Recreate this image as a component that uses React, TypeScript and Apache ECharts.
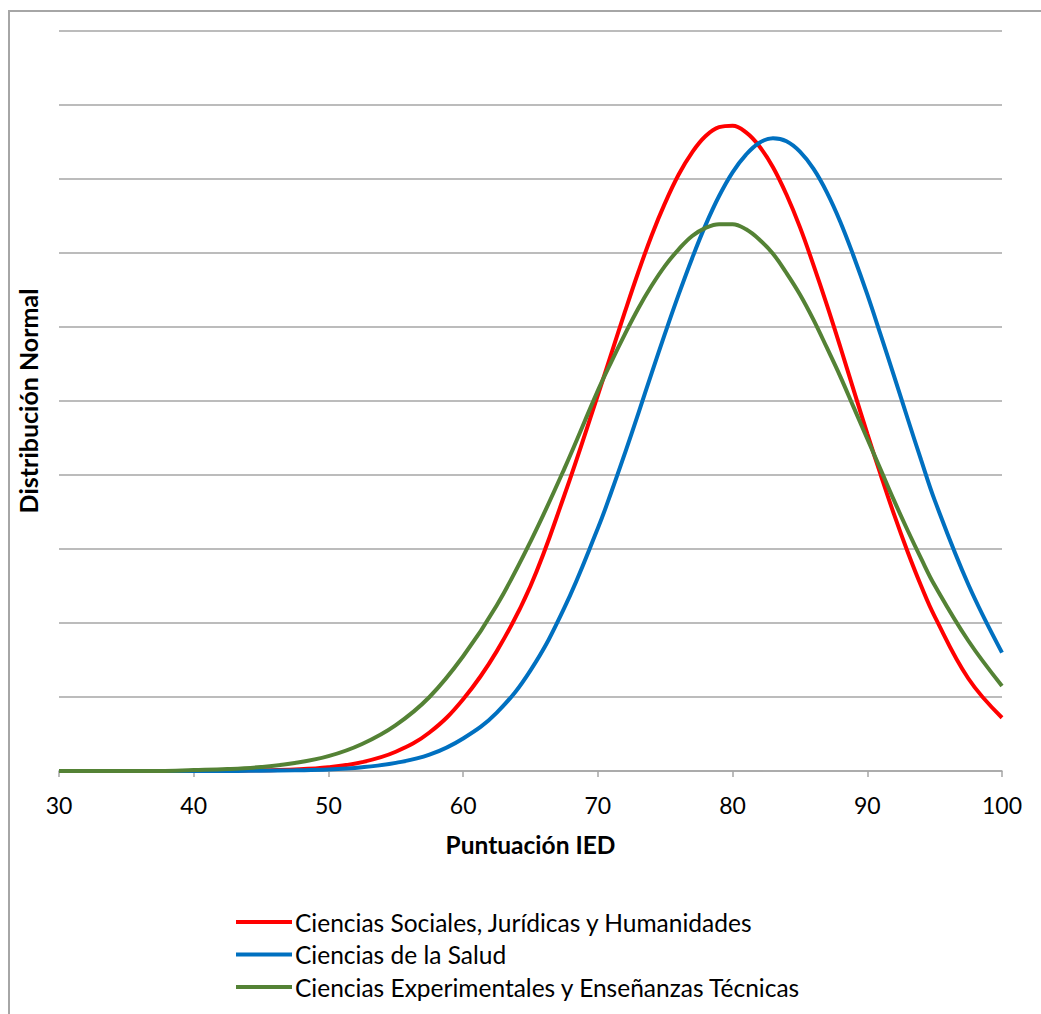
import React, { useEffect, useRef } from "react";
import * as echarts from "echarts";

// x positions (Puntuación IED); denser around the peaks
const xValues = [30, 32.5, 35, 37.5, 40, 42.5, 45, 47.5, 50, 52.5, 55, 57.5, 60, 62.5, 65, 67.5,
  70, 71, 72, 73, 74, 75, 76, 77, 78, 79, 80, 81, 82, 83, 84, 85, 86, 87, 88, 89, 90, 91, 92, 93, 94, 95,
  97.5, 100];

// values in gridline units (y axis has no labels)
const sociales = [0, 0, 0, 0, 0, 0.005, 0.01, 0.02, 0.05, 0.12, 0.26, 0.52, 0.97, 1.62, 2.5, 3.72,
  5.08, 5.64, 6.2, 6.74, 7.24, 7.68, 8.06, 8.36, 8.58, 8.7, 8.72, 8.63, 8.44, 8.16, 7.79, 7.35, 6.84, 6.3, 5.73, 5.14, 4.56, 4.0, 3.46, 2.96, 2.5, 2.09,
  1.25, 0.72];
const salud = [0, 0, 0, 0, 0, 0, 0.005, 0.01, 0.02, 0.05, 0.11, 0.22, 0.44, 0.79, 1.36, 2.2,
  3.28, 3.77, 4.29, 4.83, 5.38, 5.92, 6.44, 6.93, 7.38, 7.77, 8.09, 8.33, 8.49, 8.55, 8.51, 8.37, 8.14, 7.82, 7.42, 6.95, 6.44, 5.89, 5.33, 4.76, 4.2, 3.66,
  2.52, 1.6];
const experimentales = [0, 0, 0, 0, 0.012, 0.026, 0.054, 0.107, 0.2, 0.365, 0.62, 1.0, 1.55, 2.24, 3.1, 4.08,
  5.14, 5.53, 5.9, 6.25, 6.56, 6.83, 7.05, 7.23, 7.34, 7.39, 7.39, 7.32, 7.18, 6.99, 6.73, 6.44, 6.1, 5.72, 5.33, 4.91, 4.49, 4.07, 3.65, 3.25, 2.87, 2.51,
  1.76, 1.15];

const seriesNames = [
  "Ciencias Sociales, Jurídicas y Humanidades",
  "Ciencias de la Salud",
  "Ciencias Experimentales y Enseñanzas Técnicas",
];
const seriesColors = ["#FF0000", "#0070C0", "#548235"];
const seriesValues = [sociales, salud, experimentales];

const FONT = "Lato, 'Open Sans', sans-serif";

export default function App() {
  const ref = useRef<HTMLDivElement>(null);
  useEffect(() => {
    if (!ref.current) return;
    const chart = echarts.init(ref.current, null, { renderer: "svg" });
    chart.setOption({
      animation: false,
      backgroundColor: "#ffffff",
      textStyle: { fontFamily: FONT },
      graphic: [
        {
          type: "rect",
          shape: { x: 9, y: 11, width: 1200, height: 1200 },
          style: { fill: "none", stroke: "#a6a6a6", lineWidth: 2 },
          silent: true,
        },
      ],
      grid: { left: 59, right: 39, top: 31, bottom: 243, containLabel: false },
      legend: {
        orient: "vertical",
        left: 236,
        top: 909,
        padding: 0,
        itemWidth: 56,
        itemHeight: 4,
        itemGap: 6.5,
        icon: "rect",
        data: seriesNames,
        textStyle: { fontSize: 24.5, color: "#000", fontFamily: FONT, lineHeight: 26, padding: [0, 0, 0, -2] },
      },
      xAxis: {
        type: "value",
        min: 30,
        max: 100,
        interval: 10,
        name: "Puntuación IED",
        nameLocation: "middle",
        nameGap: 61,
        nameTextStyle: { fontSize: 24.5, fontWeight: "bold", color: "#000", fontFamily: FONT },
        axisLine: { show: true, lineStyle: { color: "#a6a6a6", width: 1.5 } },
        axisTick: { show: true, length: 6, lineStyle: { color: "#a6a6a6", width: 1.5 } },
        axisLabel: { fontSize: 23, color: "#000", margin: 22, fontFamily: FONT },
        splitLine: { show: false },
      },
      yAxis: {
        type: "value",
        min: 0,
        max: 10,
        interval: 1,
        name: "Distribución Normal",
        nameLocation: "middle",
        nameGap: 19,
        nameRotate: 90,
        nameTextStyle: { fontSize: 25, fontWeight: "bold", color: "#000", fontFamily: FONT },
        axisLine: { show: false },
        axisTick: { show: false },
        axisLabel: { show: false },
        splitLine: { show: true, lineStyle: { color: "#a6a6a6", width: 1.5 } },
      },
      series: seriesNames.map((name, i) => ({
        name,
        type: "line",
        smooth: 0.4,
        symbol: "none",
        lineStyle: { color: seriesColors[i], width: 4 },
        itemStyle: { color: seriesColors[i] },
        data: xValues.map((x, j) => [x, seriesValues[i][j]]),
      })),
    });
    return () => chart.dispose();
  }, []);
  return (
    <div
      ref={ref}
      style={{ position: "fixed", left: 0, top: 0, width: 1041, height: 1014 }}
    />
  );
}
